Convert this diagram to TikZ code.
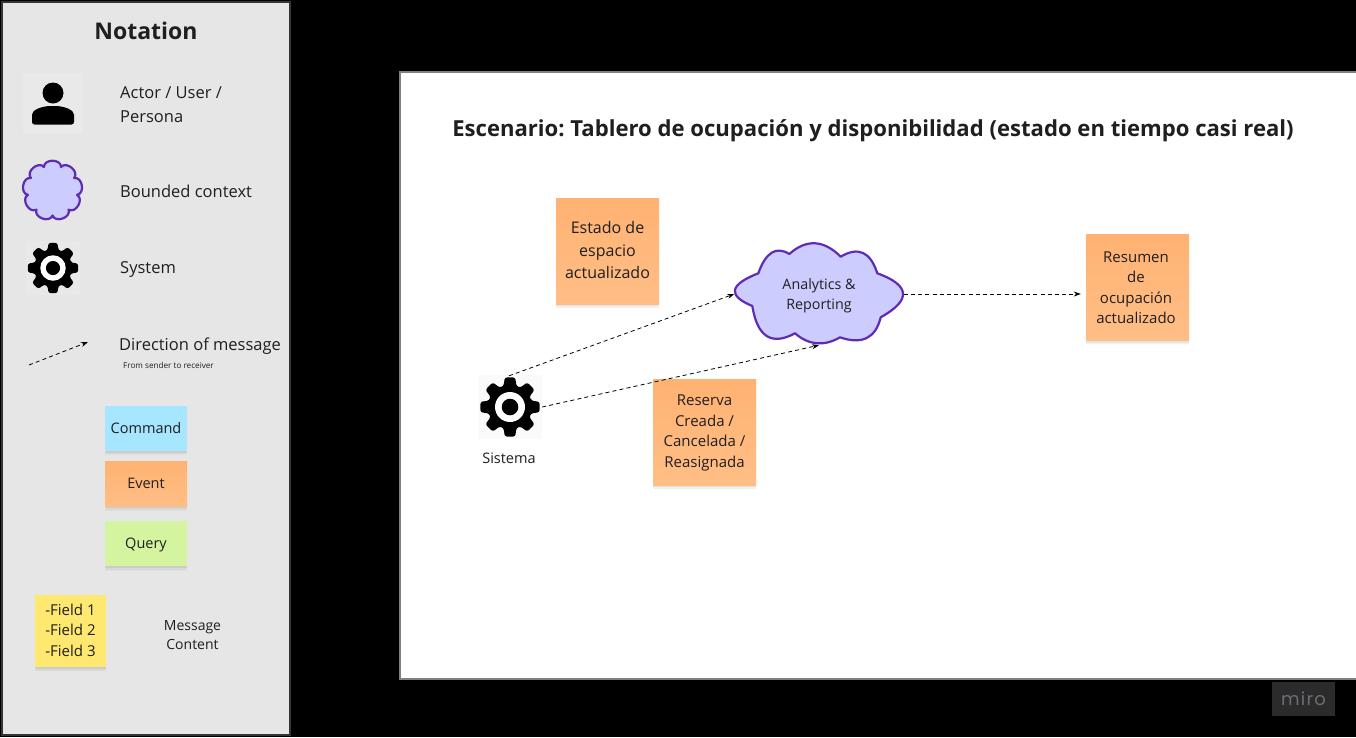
\documentclass[tikz,border=0pt]{standalone}
\usepackage{fontspec}
\setmainfont{Open Sans}
\newfontfamily\mirofont[LetterSpace=7]{Poppins}
\usetikzlibrary{shadows,arrows.meta}
\definecolor{panel}{HTML}{E6E6E6}
\definecolor{ink}{HTML}{1F1F1F}
\definecolor{orangeT}{HTML}{FFB272}
\definecolor{orangeB}{HTML}{FFBE86}
\definecolor{cyanS}{HTML}{A6E6FF}
\definecolor{greenS}{HTML}{D5F4A0}
\definecolor{yellowS}{HTML}{FFE870}
\definecolor{cloudF}{HTML}{CCCCFF}
\definecolor{cloudD}{HTML}{5F2DB3}
\definecolor{badge}{HTML}{2B2B2B}
\definecolor{badgeT}{HTML}{6C6C74}
\newcommand{\fs}[2]{\fontsize{#1}{#2}\selectfont}
\frenchspacing
\tikzset{
  x=1pt,y=-1pt,
  softshadow/.style={
    general shadow={shadow xshift=0pt,shadow yshift=-5pt,shadow scale=.985,fill=black,opacity=.025},
    general shadow={shadow xshift=0pt,shadow yshift=-3.5pt,fill=black,opacity=.035},
    general shadow={shadow xshift=0pt,shadow yshift=-2pt,fill=black,opacity=.05}},
  sticky/.style={draw=none,inner sep=0pt,align=center,text=ink,softshadow},
  eventS/.style={sticky,top color=orangeT,bottom color=orangeB,minimum width=103pt,minimum height=106pt},
  legendS/.style={sticky,minimum width=82pt,minimum height=45pt,font=\fs{14.5}{18},text depth=0pt},
  notelabel/.style={inner sep=0pt,text=ink,align=center},
  label/.style={inner sep=0pt,text=ink,align=left,anchor=west,font=\fs{16.5}{24}},
  ctxshape/.style={draw=cloudD,fill=cloudF,line width=2.2pt,line join=round},
  flow/.style={draw=black,line width=.8pt,dash pattern=on 4pt off 3.2pt,-{Stealth[length=7pt,width=5pt]}},
  iconbox/.style={draw=none,inner sep=0pt},
  pics/gear/.style={code={
    \fill[black,rounded corners=2.2pt,scale=#1] (-17:22)
      \foreach \a in {0,45,...,315}{
        -- ({\a-10}:30) -- ({\a+10}:30) -- ({\a+17}:22) -- ({\a+28}:22)
      } -- cycle;
    \fill[white,scale=#1] (0,0) circle[radius=15];
    \fill[black,scale=#1] (0,0) circle[radius=8.3];
  }}
}
\begin{document}
\begin{tikzpicture}
\useasboundingbox (0,0) rectangle (1356,737);
\fill[black] (0,0) rectangle (1356,737);
% panels
\draw[draw=ink!90,line width=2pt,fill=panel] (2,2) rectangle (290,735);
\draw[draw=gray,line width=1.2pt,fill=white] (400,72) rectangle (1357,679);
% legend
\node[inner sep=0pt,text=ink,font=\bfseries\fs{23}{28}] (ntitle) at (146,31) {Notation};
\node[iconbox,fill=white,fill opacity=.15,minimum width=60pt,minimum height=60pt] (actorI) at (53,103) {};
\fill[black] (53,93) circle[radius=10.5];
\fill[black,rounded corners=2.5pt] (32,124.5) -- (32,117) .. controls (32,110) and (42,106) .. (53,106) .. controls (64,106) and (74,110) .. (74,117) -- (74,124.5) -- cycle;
\node[label] (actorT) at (120,105) {Actor / User /\\Persona};
\draw[ctxshape,shift={(52.5,190.5)}] (10:25)
  \foreach \a in {10,50,...,330}{ .. controls ({\a+5}:33) and ({\a+35}:33) .. ({\a+40}:25) } -- cycle;
\node[label] (ctxT) at (120,191) {Bounded context};
\node[iconbox,fill=white,fill opacity=.15,minimum width=54pt,minimum height=54pt] (sysI) at (53,268) {};
\pic at (53,268) {gear=.85};
\node[label] (sysT) at (120,270) {System};
\coordinate (dirA) at (29,365);
\coordinate (dirB) at (88,342);
\draw[flow] (dirA) -- (dirB);
\node[label] (dirT) at (119,346) {Direction of message};
\node[label,font=\fs{8.15}{10}] (dirS) at (123,365) {From sender to receiver};
\node[legendS,fill=cyanS] (cmd) at (146,428) {};
\node[notelabel,font=\fs{14.5}{18}] (cmdT) at (146,428) {Command};
\node[legendS,top color=orangeT,bottom color=orangeB] (evt) at (146,483.5) {Event};
\node[legendS,fill=greenS] (qry) at (146,543.5) {Query};
\node[sticky,fill=yellowS,minimum width=71pt,minimum height=72pt] (fields) at (70.5,631) {};
\node[notelabel,font=\fs{15}{20.5}] (fieldsT) at (70.5,630) {-Field 1\\-Field 2\\-Field 3};
\node[notelabel,font=\fs{14}{19}] (msgT) at (192.5,635) {Message\\Content};
% main
\node[inner sep=0pt,text=ink,font=\bfseries\fs{22.1}{28}] (title) at (873,131) {Escenario: Tablero de ocupación y disponibilidad (estado en tiempo casi real)};
\node[iconbox,fill=black,fill opacity=.02,minimum width=64pt,minimum height=64pt] (sis) at (510,407) {};
\pic at (510,407) {gear=1};
\node[inner sep=0pt,text=ink,font=\fs{14.5}{18}] (sisT) at (509,458) {Sistema};
\draw[ctxshape] (789.3,254)
  .. controls (806.4,238.8) and (823.6,239.7) .. (840.7,256.7)
  .. controls (858.2,246.2) and (870.4,251.8) .. (877.3,273.3)
  .. controls (910.4,285.3) and (911.6,300) .. (880.7,317.3)
  .. controls (875.6,338.2) and (862,344.9) .. (840,337.3)
  .. controls (823.9,346.6) and (808.9,345.3) .. (795,333.3)
  .. controls (771.5,346) and (757.3,336.9) .. (752.3,306)
  .. controls (727.2,295.6) and (729.2,284.7) .. (758.3,273.3)
  .. controls (765.8,252.3) and (776.2,245.8) .. (789.3,254) -- cycle;
\node[inner sep=0pt,minimum width=169pt,minimum height=102pt] (ana) at (819,294) {};
\node[notelabel,font=\fs{14.3}{20.5}] (anaT) at (819,296) {Analytics \&\\Reporting};
\node[eventS] (estado) at (607.5,251) {};
\node[notelabel,font=\fs{16}{22.7}] (estadoT) at (607.5,250) {Estado de\\espacio\\actualizado};
\node[eventS] (reserva) at (704.5,432) {};
\node[notelabel,font=\fs{15}{20.7}] (reservaT) at (704.5,433) {Reserva\\Creada /\\Cancelada /\\Reasignada};
\node[eventS] (resumen) at (1137.5,287.5) {};
\node[notelabel,font=\fs{15}{20.5}] (resumenT) at (1136,287.5) {Resumen\\de\\ocupación\\actualizado};
\coordinate (sisN) at ([xshift=-1pt,yshift=-1pt]sis.north);
\coordinate (sisE) at (sis.east);
\coordinate (resIn) at ([xshift=-5pt]resumen.west |- ana.east);
\draw[flow] (sisN) -- (ana.west);
\draw[flow] (sisE) -- (ana.south);
\draw[flow] (ana.east) -- (resIn);
% badge
\node[fill=badge,minimum width=63pt,minimum height=34pt,inner sep=0pt,text=badgeT,font=\mirofont\fs{18}{22}] (miro) at (1303.5,699) {miro};
\end{tikzpicture}
\end{document}
